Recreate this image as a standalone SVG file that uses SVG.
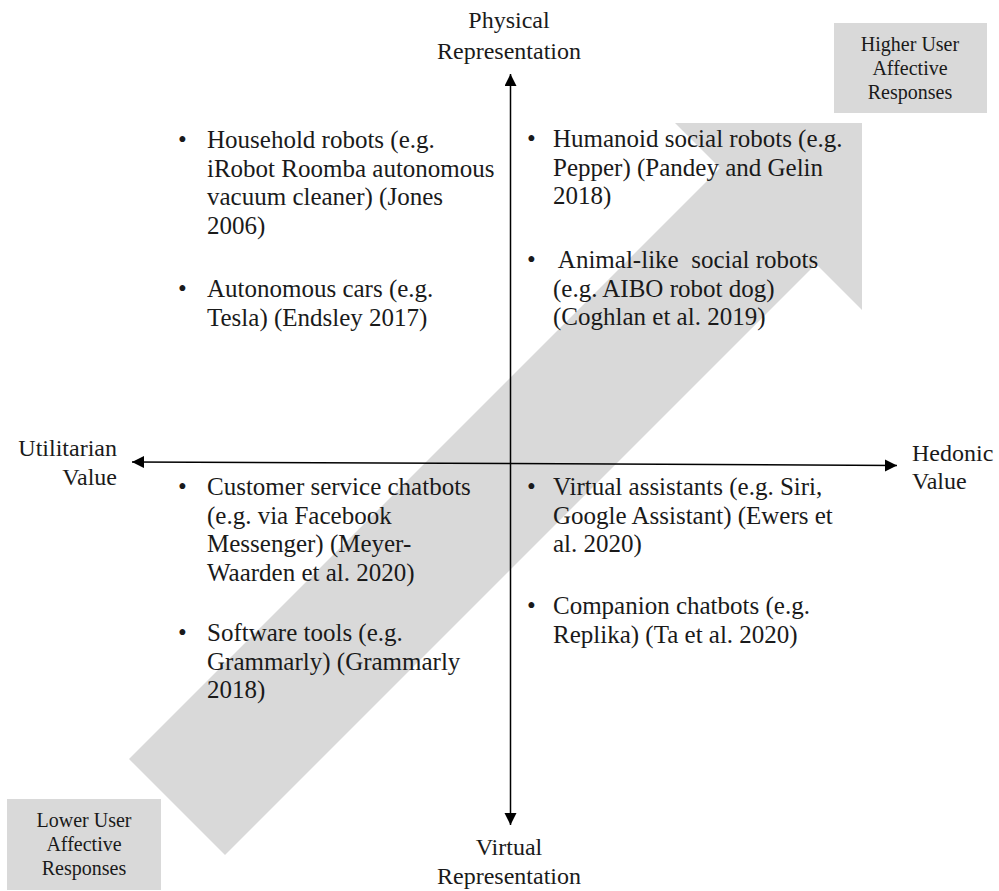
<svg xmlns="http://www.w3.org/2000/svg" width="999" height="891" viewBox="0 0 999 891">
<style>
text{font-family:"Liberation Serif","Times New Roman",serif;fill:#1a1a1a}
.t{font-size:25px}
.lbl{font-size:24px}
.box{font-size:20px;text-anchor:middle}
.axis{stroke:#000;stroke-width:1.5;fill:none}
.gray{fill:#d9d9d9}
</style>
<defs>
<marker id="ah" markerUnits="userSpaceOnUse" markerWidth="14" markerHeight="14" refX="12" refY="6" orient="auto">
<path d="M0,0 L12,6 L0,12 Z" fill="#000"/>
</marker>
</defs>
<g id="big-arrow">
<polygon class="gray" points="129,759 720,168 675,123 862,123 862,310 816,264 225,855"/>
</g>
<g id="box-high">
<rect class="gray" x="834" y="23" width="153" height="90"/>
<text class="box" x="910" y="51">Higher User<tspan x="910" y="75">Affective</tspan><tspan x="910" y="99">Responses</tspan></text>
</g>
<g id="box-low">
<rect class="gray" x="7" y="799" width="154" height="91"/>
<text class="box" x="84" y="827">Lower User<tspan x="84" y="851">Affective</tspan><tspan x="84" y="875">Responses</tspan></text>
</g>
<g id="connectors">
<line class="axis" x1="510.5" y1="462" x2="510.5" y2="74" marker-end="url(#ah)"/>
<line class="axis" x1="510.5" y1="462" x2="510.5" y2="825" marker-end="url(#ah)"/>
<line class="axis" x1="510" y1="463.5" x2="132" y2="462" marker-end="url(#ah)"/>
<line class="axis" x1="510" y1="463.5" x2="897" y2="465.5" marker-end="url(#ah)"/>
</g>
<g id="label-physical">
<text class="lbl" x="509" y="28" text-anchor="middle">Physical<tspan x="509" y="59">Representation</tspan></text>
</g>
<g id="label-virtual">
<text class="lbl" x="509" y="855" text-anchor="middle">Virtual<tspan x="509" y="884">Representation</tspan></text>
</g>
<g id="label-utilitarian">
<text class="lbl" x="117" y="456" text-anchor="end">Utilitarian<tspan x="117" y="485">Value</tspan></text>
</g>
<g id="label-hedonic">
<text class="lbl" x="912" y="461">Hedonic<tspan x="912" y="489">Value</tspan></text>
</g>
<g id="q-top-left">
<text class="t" x="178" y="148">•</text>
<text class="t" x="207" y="148">Household robots (e.g.<tspan x="207" y="176.5">iRobot Roomba autonomous</tspan><tspan x="207" y="205">vacuum cleaner) (Jones</tspan><tspan x="207" y="233.5">2006)</tspan></text>
<text class="t" x="178" y="297">•</text>
<text class="t" x="207" y="297">Autonomous cars (e.g.<tspan x="207" y="325.5">Tesla) (Endsley 2017)</tspan></text>
</g>
<g id="q-top-right">
<text class="t" x="527" y="147">•</text>
<text class="t" x="553" y="147">Humanoid social robots (e.g.<tspan x="553" y="175.5">Pepper) (Pandey and Gelin</tspan><tspan x="553" y="204">2018)</tspan></text>
<text class="t" x="527" y="268">•</text>
<text class="t" x="553" y="268" xml:space="preserve"> Animal-like  social robots</text>
<text class="t" x="553" y="296.5">(e.g. AIBO robot dog)<tspan x="553" y="325">(Coghlan et al. 2019)</tspan></text>
</g>
<g id="q-bottom-left">
<text class="t" x="178" y="495">•</text>
<text class="t" x="207" y="495">Customer service chatbots<tspan x="207" y="523.5">(e.g. via Facebook</tspan><tspan x="207" y="552">Messenger) (Meyer-</tspan><tspan x="207" y="580.5">Waarden et al. 2020)</tspan></text>
<text class="t" x="178" y="641">•</text>
<text class="t" x="207" y="641">Software tools (e.g.<tspan x="207" y="669.5">Grammarly) (Grammarly</tspan><tspan x="207" y="698">2018)</tspan></text>
</g>
<g id="q-bottom-right">
<text class="t" x="527" y="495">•</text>
<text class="t" x="553" y="495">Virtual assistants (e.g. Siri,<tspan x="553" y="523.5">Google Assistant) (Ewers et</tspan><tspan x="553" y="552">al. 2020)</tspan></text>
<text class="t" x="527" y="614">•</text>
<text class="t" x="553" y="614">Companion chatbots (e.g.<tspan x="553" y="642.5">Replika) (Ta et al. 2020)</tspan></text>
</g>
</svg>
